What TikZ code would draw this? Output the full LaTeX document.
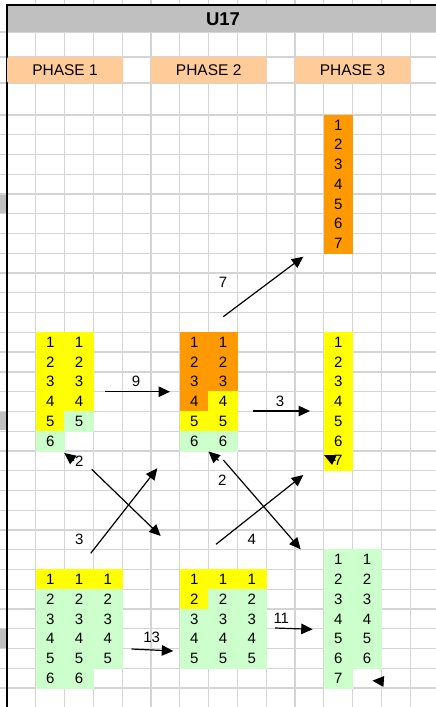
\documentclass[tikz,border=0pt]{standalone}
\usepackage{fontspec}
\setmainfont{Liberation Sans}
\usetikzlibrary{arrows.meta}
\definecolor{gridc}{HTML}{D4D4D4}
\definecolor{hdrc}{HTML}{C0C0C0}
\definecolor{phasec}{HTML}{FFCC99}
\definecolor{ylw}{HTML}{FFFF00}
\definecolor{org}{HTML}{FF9900}
\definecolor{grn}{HTML}{CCFFCC}
\newcommand\cellX[1]{7+28.8*(#1)}
\newcommand\cellY[1]{115+19.76*(#1)}
\newcommand\mycell[4]{%
  \fill[#3,draw=#3,line width=0.5pt] ({\cellX{#1}},{\cellY{#2}}) rectangle ({\cellX{#1+1}},{\cellY{#2+1}});
  \node[num] (c#1-#2) at ({\cellX{#1+0.5}},{\cellY{#2+0.5}}) {#4};}
\begin{document}
\begin{tikzpicture}[x=1pt,y=-1pt,
  num/.style={font=\fontsize{15}{18}\selectfont,inner sep=0pt,text=black},
  phaselbl/.style={fill=phasec,rounded corners=2pt,minimum width=116pt,minimum height=26pt,inner sep=0pt,font=\fontsize{15.5}{18}\selectfont},
  gridline/.style={draw=gridc,line width=1.3pt},
  arr/.style={-{Triangle[length=11.5pt,width=10.5pt]},line width=1.2pt,black},
  lbl/.style={font=\fontsize{15}{18}\selectfont,inner sep=0pt}]
\useasboundingbox (0,0) rectangle (436,707);
\fill[white] (0,0) rectangle (436,707);
% grid
\foreach \c in {1,...,15} \draw[gridline] ({\cellX{\c}},0) -- ({\cellX{\c}},707);
\foreach \yy in {32,57,83} \draw[gridline] (0,\yy) -- (436,\yy);
\foreach \r in {0,...,30} \draw[gridline] (0,{\cellY{\r}}) -- (436,{\cellY{\r}});
% row header highlights
\foreach \r in {4,15,26} \fill[hdrc] (0,{\cellY{\r}+0.7}) rectangle (6,{\cellY{\r+1}-0.7});
% title bar
\fill[hdrc] (7,5) rectangle (436,32);
\node[font=\bfseries\fontsize{18.5}{22}\selectfont,inner sep=0pt] (title) at (223,19) {U17};
% borders
\draw[black,line width=1.5pt] (7,5) -- (436,5);
\draw[black,line width=2pt] (7,4.3) -- (7,707);
% phase labels
\node[phaselbl] (p1) at (65,70) {PHASE 1};
\node[phaselbl] (p2) at (208.7,70) {PHASE 2};
\node[phaselbl] (p3) at (352.5,70) {PHASE 3};
% phase 3 top
\foreach \v [evaluate=\v as \r using int(\v-1)] in {1,...,7} {\mycell{11}{\r}{org}{\v}}
% phase 1 top
\foreach \v [evaluate=\v as \r using int(\v+10)] in {1,...,5} {\mycell{1}{\r}{ylw}{\v}}
\mycell{1}{16}{grn}{6}
\foreach \v [evaluate=\v as \r using int(\v+10)] in {1,...,4} {\mycell{2}{\r}{ylw}{\v}}
\mycell{2}{15}{grn}{5}
% phase 2 top
\foreach \v [evaluate=\v as \r using int(\v+10)] in {1,...,4} {\mycell{6}{\r}{org}{\v}}
\mycell{6}{15}{ylw}{5}
\mycell{6}{16}{grn}{6}
\foreach \v [evaluate=\v as \r using int(\v+10)] in {1,...,3} {\mycell{7}{\r}{org}{\v}}
\mycell{7}{14}{ylw}{4}
\mycell{7}{15}{ylw}{5}
\mycell{7}{16}{grn}{6}
% phase 3 middle
\foreach \v [evaluate=\v as \r using int(\v+10)] in {1,...,7} {\mycell{11}{\r}{ylw}{\v}}
% phase 1 bottom
\foreach \c in {1,2,3} {\mycell{\c}{23}{ylw}{1}}
\foreach \c in {1,2,3} {\foreach \v [evaluate=\v as \r using int(\v+22)] in {2,...,5} {\mycell{\c}{\r}{grn}{\v}}}
\foreach \c in {1,2} {\mycell{\c}{28}{grn}{6}}
% phase 2 bottom
\foreach \c in {6,7,8} {\mycell{\c}{23}{ylw}{1}}
\mycell{6}{24}{ylw}{2}
\foreach \c in {7,8} {\mycell{\c}{24}{grn}{2}}
\foreach \c in {6,7,8} {\foreach \v [evaluate=\v as \r using int(\v+22)] in {3,...,5} {\mycell{\c}{\r}{grn}{\v}}}
% phase 3 bottom
\foreach \c in {11,12} {\foreach \v [evaluate=\v as \r using int(\v+21)] in {1,...,6} {\mycell{\c}{\r}{grn}{\v}}}
\mycell{11}{28}{grn}{7}
% arrow end points
\coordinate (a9s) at (105,391.7);  \coordinate (a9e) at (170,391.7);
\coordinate (a3s) at (253.3,411);  \coordinate (a3e) at (310,411);
\coordinate (a7s) at (223.3,316.7); \coordinate (a7e) at (303.3,256.7);
\coordinate (x1s) at (91.7,469.3); \coordinate (x1e) at (160.7,536);
\coordinate (x2s) at (90.7,553.3); \coordinate (x2e) at (157.3,468.3);
\coordinate (x3s) at (223.3,460);  \coordinate (x3e) at (300.7,549.3);
\coordinate (x4s) at (216,544.3);  \coordinate (x4e) at (303.3,475);
\coordinate (a13s) at (131.5,649); \coordinate (a13e) at (173.3,651);
\coordinate (a11s) at (275,628);   \coordinate (a11e) at (312.7,629.3);
\coordinate (h1s) at (74,460.5);   \coordinate (h1e) at (64.3,453);
\coordinate (h2s) at (218.5,460.5); \coordinate (h2e) at (208.5,451.5);
\coordinate (h3s) at (335.5,460.5); \coordinate (h3e) at (324,455);
\coordinate (h4s) at (384,681.5);  \coordinate (h4e) at (372.3,680.7);
% arrows
\draw[arr] (a9s) -- (a9e);
\draw[arr] (a3s) -- (a3e);
\draw[arr] (a7s) -- (a7e);
\draw[arr] (x1s) -- (x1e);
\draw[arr] (x2s) -- (x2e);
\draw[arr] (x3s) -- (x3e);
\draw[arr] (x4s) -- (x4e);
\draw[arr] (a13s) -- (a13e);
\draw[arr] (a11s) -- (a11e);
\draw[arr] (h1s) -- (h1e);
\draw[arr] (h2s) -- (h2e);
\draw[arr] (h3s) -- (h3e);
\draw[arr] (h4s) -- (h4e);
% labels
\node[lbl] (l9) at (136,381) {9};
\node[lbl] (l3a) at (280,401.7) {3};
\node[lbl] (l7) at (223,282) {7};
\node[lbl] (l2a) at (79.3,461.7) {2};
\node[lbl] (l3b) at (79.3,539.3) {3};
\node[lbl] (l2b) at (222.3,480.7) {2};
\node[lbl] (l4) at (251.7,539.3) {4};
\node[lbl] (l13) at (151.7,637.3) {13};
\node[lbl] (l11) at (281.3,618.3) {11};
\end{tikzpicture}
\end{document}
